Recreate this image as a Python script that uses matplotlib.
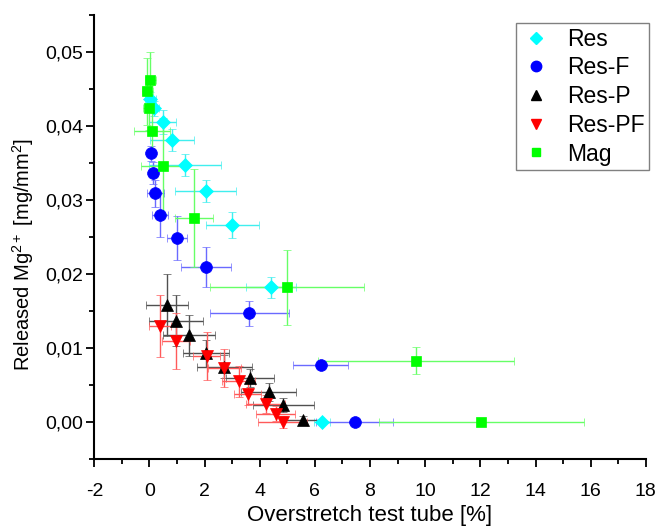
import matplotlib
matplotlib.use("Agg")
import matplotlib.pyplot as plt
from matplotlib.lines import Line2D
from matplotlib.ticker import FuncFormatter, MultipleLocator

plt.rcParams['font.family'] = ['Liberation Sans', 'DejaVu Sans']
plt.rcParams['mathtext.fontset'] = 'custom'
plt.rcParams['mathtext.rm'] = 'Liberation Sans'
plt.rcParams['mathtext.it'] = 'Liberation Sans:italic'

# ---- data ----
series_names = ["Res", "Res-F", "Res-P", "Res-PF", "Mag"]

res_x = [0.02, 0.15, 0.48, 0.82, 1.30, 2.04, 3.01, 4.41, 6.26]
res_y = [0.0436, 0.0424, 0.0405, 0.0381, 0.0347, 0.0312, 0.0266, 0.0182, 0.0000]
res_xerr = [0.2, 0.2, 0.5, 0.8, 1.3, 1.1, 0.96, 0.9, 0.3]
res_yerr = [0.001, 0.001, 0.0016, 0.0015, 0.0015, 0.0015, 0.0018, 0.0014, 0.0003]

resf_x = [0.05, 0.14, 0.21, 0.39, 0.99, 2.05, 3.62, 6.21, 7.45]
resf_y = [0.0363, 0.0336, 0.0309, 0.0280, 0.0249, 0.0209, 0.0147, 0.0077, 0.0000]
resf_xerr = [0.1, 0.15, 0.3, 0.3, 0.37, 0.9, 1.44, 1.0, 1.4]
resf_yerr = [0.001, 0.0015, 0.0018, 0.003, 0.003, 0.0027, 0.0017, 0.0005, 0.0003]

resp_x = [0.63, 0.95, 1.44, 2.06, 2.71, 3.64, 4.32, 4.85, 5.57]
resp_y = [0.0158, 0.0137, 0.0117, 0.0093, 0.0075, 0.0059, 0.0041, 0.0023, 0.0003]
resp_xerr = [0.75, 0.98, 0.95, 0.83, 1.0, 0.86, 1.0, 1.1, 0.7]
resp_yerr = [0.0042, 0.0034, 0.0028, 0.0018, 0.0015, 0.0012, 0.0012, 0.001, 0.0005]

respf_x = [0.39, 0.96, 2.07, 2.71, 3.23, 3.56, 4.21, 4.58, 4.83]
respf_y = [0.0130, 0.0109, 0.0089, 0.0073, 0.0055, 0.0038, 0.0024, 0.0011, 0.0000]
respf_xerr = [0.4, 0.5, 0.5, 0.6, 0.6, 0.5, 0.7, 0.7, 0.9]
respf_yerr = [0.0042, 0.0038, 0.0032, 0.0026, 0.0021, 0.0015, 0.0012, 0.001, 0.0008]

mag_x = [0.03, -0.08, -0.03, 0.08, 0.48, 1.62, 4.98, 9.66, 12.04]
mag_y = [0.0462, 0.0447, 0.0424, 0.0393, 0.0346, 0.0276, 0.0182, 0.0083, 0.0000]
mag_xerr = [0.2, 0.2, 0.2, 0.65, 0.8, 0.7, 2.8, 3.55, 3.73]
mag_yerr = [0.0038, 0.0045, 0.003, 0.003, 0.0065, 0.0066, 0.0051, 0.0018, 0.0003]

x_ticks = [-2, 0, 2, 4, 6, 8, 10, 12, 14, 16, 18]
y_ticks = [0.00, 0.01, 0.02, 0.03, 0.04, 0.05]

# ---- styles ----
styles = [
    dict(marker='D', color='#00ffff', ecolor='#40eeee', ms=7),
    dict(marker='o', color='#0000ff', ecolor='#6a6aff', ms=8.5),
    dict(marker='^', color='#000000', ecolor='#505050', ms=8.5),
    dict(marker='v', color='#ff0000', ecolor='#ff5a5a', ms=8.5),
    dict(marker='s', color='#00ff00', ecolor='#66ff66', ms=6.5),
]
data = [
    (res_x, res_y, res_xerr, res_yerr),
    (resf_x, resf_y, resf_xerr, resf_yerr),
    (resp_x, resp_y, resp_xerr, resp_yerr),
    (respf_x, respf_y, respf_xerr, respf_yerr),
    (mag_x, mag_y, mag_xerr, mag_yerr),
]

fig = plt.figure(figsize=(6.61, 5.27), dpi=100)
ax = fig.add_axes([0.1427, 0.129, 0.977 - 0.1427, 0.9715 - 0.129])

for (x, y, xe, ye), st in zip(data, styles):
    ax.errorbar(x, y, xerr=xe, yerr=ye, fmt=st['marker'], color=st['color'],
                ecolor=st['ecolor'], elinewidth=1.0, capsize=3, capthick=1.0,
                ms=st['ms'], mec=st['color'], mew=0.5)

ax.set_xlim(-2, 18)
ax.set_ylim(-0.005, 0.055)
ax.set_xticks(x_ticks)
ax.set_yticks(y_ticks)
ax.xaxis.set_minor_locator(MultipleLocator(1))
ax.yaxis.set_minor_locator(MultipleLocator(0.005))
ax.xaxis.set_major_formatter(FuncFormatter(lambda v, p: f"{v:g}"))
ax.yaxis.set_major_formatter(FuncFormatter(lambda v, p: f"{v:.2f}".replace('.', ',')))
ax.tick_params(which='major', direction='out', length=6, width=1.3, labelsize=14)
ax.tick_params(axis='x', which='major', pad=11)
ax.tick_params(axis='y', which='major', pad=2)
ax.tick_params(which='minor', direction='out', length=3.5, width=1.3)
for s in ['top', 'right']:
    ax.spines[s].set_visible(False)
for s in ['left', 'bottom']:
    ax.spines[s].set_linewidth(1.5)

ax.set_xlabel("Overstretch test tube [%]", fontsize=16, labelpad=4)
ax.set_ylabel(r"Released Mg$^{2+}$ [mg/mm$^2$]", fontsize=14.5)
ax.yaxis.set_label_coords(-0.105, 0.46)

handles = [Line2D([], [], linestyle='none', marker=st['marker'], color=st['color'],
                  ms=st['ms'] - 1) for st in styles]
leg = ax.legend(handles, series_names, loc='upper right',
                bbox_to_anchor=(649 / 661, 1 - 23 / 527), bbox_transform=fig.transFigure,
                borderaxespad=0, fontsize=16.5, frameon=True, fancybox=False,
                edgecolor='#606060', handletextpad=0.7, borderpad=0.2,
                labelspacing=0.25, handlelength=1.3)
leg.get_frame().set_linewidth(1.0)

fig.savefig("out.png", dpi=100)
